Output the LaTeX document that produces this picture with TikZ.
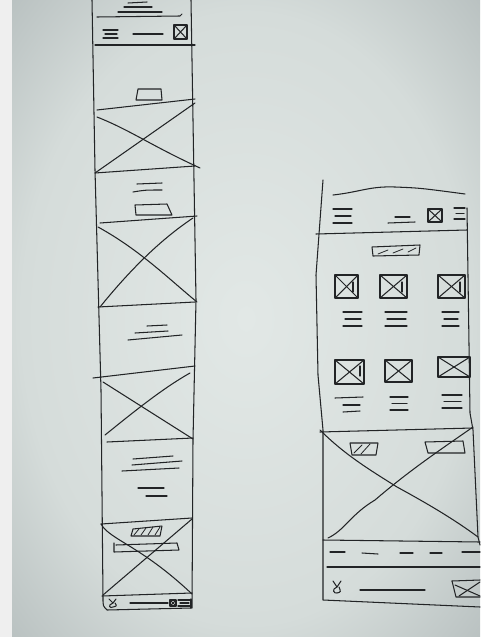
\documentclass[tikz,border=0pt]{standalone}
\definecolor{penc}{HTML}{222426}
\definecolor{stripc}{HTML}{EFEFEF}
\definecolor{pl}{HTML}{E2E8E6}
\definecolor{pm}{HTML}{D5DCDA}
\definecolor{pd}{HTML}{A0A9AA}
\definecolor{pdd}{HTML}{7D868A}
\pgfdeclareradialshading{paper}{\pgfpoint{0bp}{0bp}}{color(0bp)=(pl); color(24bp)=(pm); color(46bp)=(pd); color(70bp)=(pdd)}
\newcommand\xbx[4]{\draw[pen] (#1,#2) rectangle (#3,#4); \draw[pen] (#1,#2) -- (#3,#4); \draw[pen] (#1,#4) -- (#3,#2);}
\newcommand\tri[4]{%
  \pgfmathsetmacro\triA{#1+2}\pgfmathsetmacro\triB{#3-1}%
  \pgfmathsetmacro\triC{#2+#4}\pgfmathsetmacro\triD{#2+2*#4}%
  \draw[pen] (#1,#2) -- (#3,#2);
  \draw[pen] (\triA,\triC) -- (\triB,\triC);
  \draw[pen] (#1,\triD) -- (#3,\triD);}
\begin{document}
\begin{tikzpicture}[x=1pt,y=-1pt,
  pen/.style={draw=penc,line width=1.05pt,line cap=round,line join=round},
  fine/.style={draw=penc,line width=0.8pt,line cap=round}]
\useasboundingbox (0,0) rectangle (480,637);
\fill[stripc] (0,0) rectangle (12,637);
\shade[shading=paper] (12,0) rectangle (480,637);

% ---------------- left phone ----------------
\draw[pen] (92,0) -- (95,170) -- (101,390) -- (103,598) .. controls (103,606) .. (107,610) -- (191,608);
\draw[pen] (191,0) -- (196,300) -- (193,440) -- (192,608);
% top text
\draw[pen] (128,3) -- (147,2);
\draw[pen] (124,7) -- (152,7);
\draw[pen] (118,12) -- (162,12);
\draw[pen] (97,17) -- (180,16) -- (182,14);
% header
\tri{103}{30}{118}{4}
\draw[pen] (133,34) -- (163,34);
\xbx{174}{25}{187}{39}
\draw[pen] (95,45) -- (195,45);
% button
\draw[pen] (138,89) -- (161,89) -- (162,100) -- (136,100) -- cycle;
% image 1
\draw[pen] (97,110) -- (195,99);
\draw[pen] (97,117) .. controls (130,130) and (150,145) .. (200,168);
\draw[pen] (95,173) -- (195,103);
\draw[pen] (95,173) -- (195,166);
% text 2
\draw[pen] (137,184) -- (162,183);
\draw[pen] (133,192) .. controls (145,190) .. (162,190);
\draw[pen] (135,205) -- (167,204) -- (172,215) -- (136,215) -- cycle;
% image 2
\draw[pen] (100,223) -- (197,216);
\draw[pen] (98,227) .. controls (140,250) and (170,280) .. (197,302);
\draw[pen] (100,307) .. controls (130,270) and (160,240) .. (193,218);
\draw[pen] (98,307) -- (195,302);
% text 3
\draw[pen] (147,326) -- (167,325);
\draw[pen] (135,333) -- (168,331);
\draw[pen] (128,340) -- (182,335);
% image 3
\draw[pen] (93,378) -- (195,366);
\draw[pen] (103,382) -- (193,439);
\draw[pen] (105,435) .. controls (130,415) and (160,390) .. (190,373);
\draw[pen] (107,442) -- (193,438);
% text 4
\draw[pen] (133,459) -- (173,456);
\draw[pen] (132,465) -- (182,461);
\draw[pen] (122,471) -- (179,468);
\draw[pen] (138,488) -- (164,488);
\draw[pen] (146,496) -- (167,496);
% image 4
\draw[pen] (101,524) -- (192,518);
\draw[pen] (133,529) -- (162,526) -- (160,536) -- (131,536) -- cycle;
\draw[fine] (134,535) -- (139,529) (141,535) -- (146,528) (148,535) -- (153,527) (155,535) -- (160,527);
\draw[pen] (114,543) -- (114,552) -- (179,550) -- (177,543) -- (116,545);
\draw[pen] (101,524) .. controls (110,540) and (140,545) .. (192,594);
\draw[pen] (103,595) -- (192,519);
\draw[pen] (102,596) -- (192,593);
% footer
\draw[pen] (109,599) -- (113,603) -- (116,599);
\draw[pen] (113,603) .. controls (107,605) and (110,609) .. (113,607) .. controls (117,606) .. (115,603);
\draw[pen] (130,603) -- (168,603);
\xbx{170}{600}{176}{606}
\tri{178}{600}{190}{3}
\draw[pen] (191,599) -- (191,608);

% ---------------- right phone ----------------
\draw[pen] (323,180) -- (316,275) -- (318,375) -- (323,430) -- (323,600) -- (480,607);
\draw[pen] (467,208) -- (470,413) -- (473,430) -- (478,537) -- (480,545);
\draw[pen] (333,195) .. controls (360,192) and (370,186) .. (395,187) .. controls (420,188) .. (465,194);
% header
\tri{333}{209}{352}{7}
\draw[pen] (395,217) -- (410,217);
\draw[pen] (388,223) -- (415,222);
\xbx{428}{209}{442}{222}
\tri{454}{208}{465}{5.5}
\draw[pen] (316,234) -- (467,230);
% banner
\draw[pen] (372,247) -- (420,245) -- (419,255) -- (373,256) -- cycle;
\draw[fine] (378,254) -- (388,250) (393,253) -- (403,249) (408,252) -- (416,248);
% grid row 1
\xbx{335}{275}{358}{298}
\xbx{380}{275}{407}{298}
\xbx{438}{275}{465}{298}
\draw[pen] (353,282) -- (353,292) (402,282) -- (402,292) (460,282) -- (460,292);
\tri{343}{312}{362}{7}
\tri{385}{312}{407}{7}
\tri{442}{312}{459}{7}
% grid row 2
\xbx{335}{360}{364}{384}
\xbx{385}{360}{412}{382}
\xbx{438}{357}{470}{377}
\draw[pen] (360,366) -- (360,376);
\draw[pen] (335,398) -- (363,397);
\draw[pen] (343,405) -- (360,405);
\draw[pen] (343,412) -- (360,411);
\tri{390}{397}{408}{6.5}
\tri{442}{395}{462}{6.5}
% big image
\draw[pen] (320,432) -- (473,428);
\draw[pen] (320,430) .. controls (345,455) and (370,470) .. (397,487) .. controls (430,505) and (455,520) .. (478,537);
\draw[pen] (328,538) .. controls (345,530) and (350,515) .. (375,500) .. controls (410,470) and (440,450) .. (473,427);
\draw[pen] (350,443) -- (378,443) -- (376,455) -- (352,455) -- cycle;
\draw[fine] (354,453) -- (362,445) (361,454) -- (370,444);
\draw[pen] (425,442) -- (463,441) -- (465,453) -- (428,453) -- cycle;
\draw[pen] (323,540) -- (480,542);
% dashed line
\draw[pen] (330,552) -- (345,552);
\draw[pen] (362,553) -- (378,554);
\draw[pen] (400,553) -- (413,553);
\draw[pen] (430,553) -- (442,553);
\draw[pen] (462,552) -- (480,552);
\draw[pen] (327,567) -- (480,567);
% footer
\draw[pen] (333,581) -- (337,587) -- (341,581);
\draw[pen] (337,587) .. controls (331,589) and (334,594) .. (337,593) .. controls (341,592) .. (339,587);
\draw[pen] (360,590) -- (425,590);
\draw[pen] (452,581) -- (480,580);
\draw[pen] (452,581) -- (456,597) -- (480,597);
\draw[pen] (455,585) -- (480,596);
\draw[pen] (459,596) -- (480,582);
\end{tikzpicture}
\end{document}
